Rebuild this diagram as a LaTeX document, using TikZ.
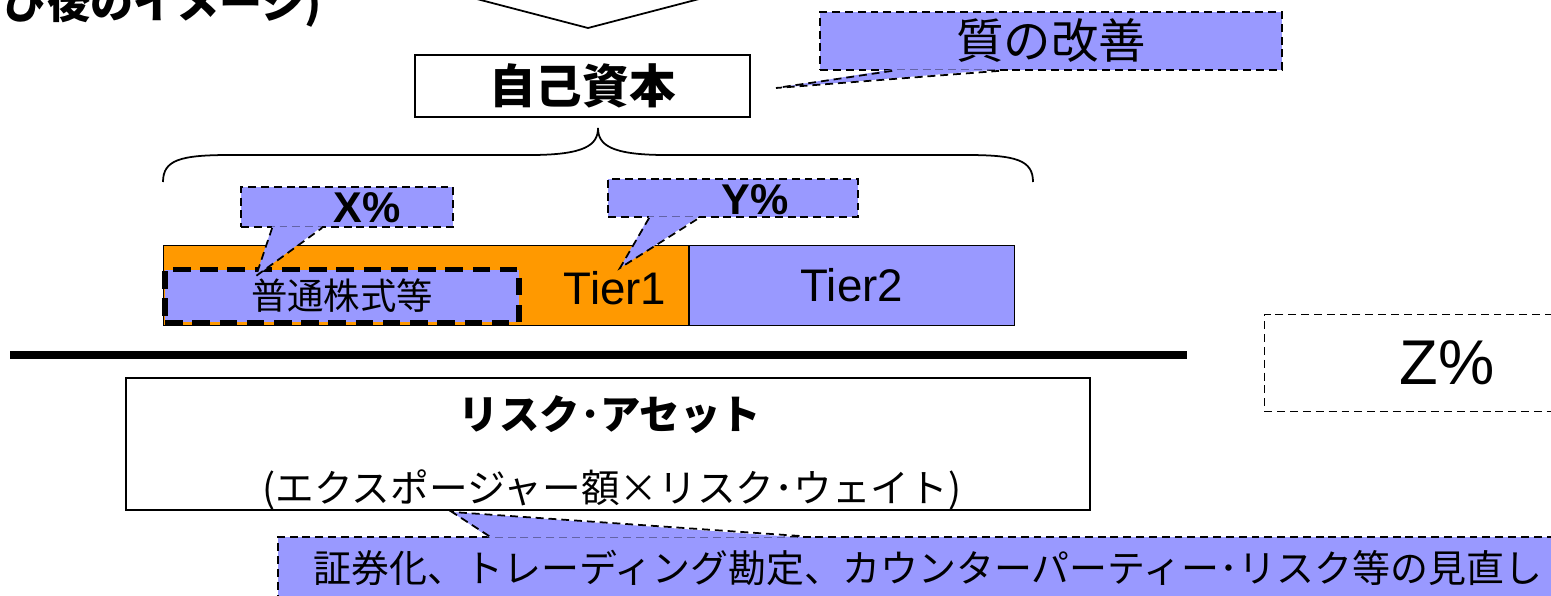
\documentclass[tikz,border=0pt]{standalone}
\usepackage{fontspec}
\setmainfont{Liberation Sans}
\newfontfamily\jp{Noto Sans CJK JP}
\usetikzlibrary{positioning,calc}
\definecolor{lav}{HTML}{9999FF}
\definecolor{orng}{HTML}{FF9900}
\tikzset{
  note/.style={fill=lav, draw, line width=1pt, dash pattern=on 4.5pt off 2.8pt, inner sep=0pt},
  noteline/.style={line width=1pt, dash pattern=on 4.5pt off 2.8pt},
  plainbox/.style={draw, line width=1pt, fill=white, inner sep=0pt},
  barpart/.style={draw, line width=0.6pt, inner sep=0pt, minimum height=1.6cm},
  pct/.style={inner sep=0pt, font=\bfseries\fontsize{24.5pt}{28pt}\selectfont},
}

\begin{document}
\begin{tikzpicture}[x=0.02cm, y=-0.02cm, >=latex]
  \clip (0,0) rectangle (1551,595);

  % title (cut at the top)
  \node[anchor=east, inner sep=0pt, font=\jp\bfseries\fontsize{24.5pt}{28pt}\selectfont] (ttl) at (322,4) {び後のイメージ)};
  \draw[line width=1pt] (427,-14) -- (588,28) -- (749,-14);

  % capital
  \node[plainbox, minimum width=6.7cm, minimum height=1.24cm, font=\jp\bfseries\fontsize{26.5pt}{30pt}\selectfont] (eq) at (582.5,86) {自己資本};

  \node[note, minimum width=9.24cm, minimum height=1.16cm, font=\jp\fontsize{27pt}{30pt}\selectfont] (qual) at (1051,41) {質の改善};
  \coordinate (qtip) at (776,88);
  \fill[lav] ($(qual.south west)+(73,-1.5)$) -- (qtip) -- ($(qual.south west)+(180,-1.5)$) -- cycle;
  \draw[noteline] ($(qual.south west)+(73,0)$) -- (qtip) -- ($(qual.south west)+(180,0)$);

  % brace
  \draw[line width=1pt] (163,182) .. controls (163,160) and (180,155) .. (230,155) -- (530,155)
     .. controls (585,155) and (598,145) .. (598,128)
     .. controls (598,145) and (611,155) .. (666,155) -- (966,155)
     .. controls (1016,155) and (1033,160) .. (1033,182);

  % tiers
  \node[barpart, fill=orng, minimum width=10.5cm, anchor=north west] (tier1) at (163,245) {};
  \node[barpart, fill=lav, minimum width=6.5cm, right=0pt of tier1, font=\fontsize{26pt}{30pt}\selectfont] (tier2) {Tier2};
  \node[inner sep=0pt, font=\fontsize{26pt}{30pt}\selectfont] (t1txt) at (615,288) {Tier1};
  \node[draw, fill=lav, line width=3.3pt, dash pattern=on 10pt off 5.5pt, minimum width=7.08cm, minimum height=1.06cm, inner sep=0pt, font=\jp\fontsize{20.7pt}{24pt}\selectfont] (cs) at (342,296) {普通株式等};

  % X%
  \node[note, minimum width=4.24cm, minimum height=0.8cm] (xbox) at (347,207) {};
  \node[pct] (xp) at (367,208) {X\%};
  \coordinate (xtip) at (256,276);
  \fill[lav] ($(xbox.south west)+(32,-1.5)$) -- (xtip) -- ($(xbox.south west)+(82,-1.5)$) -- cycle;
  \draw[noteline] ($(xbox.south west)+(32,0)$) -- (xtip) -- ($(xbox.south west)+(82,0)$);

  % Y%
  \node[note, minimum width=5cm, minimum height=0.76cm] (ybox) at (733,198) {};
  \node[pct] (yp) at (755,200) {Y\%};
  \coordinate (ytip) at (620,268);
  \fill[lav] ($(ybox.south west)+(42,-1.5)$) -- (ytip) -- ($(ybox.south west)+(92,-1.5)$) -- cycle;
  \draw[noteline] ($(ybox.south west)+(42,0)$) -- (ytip) -- ($(ybox.south west)+(92,0)$);

  % ratio line
  \draw[line width=4pt] (10,355) -- (1187,355);
  \node[draw, noteline, minimum width=7.3cm, minimum height=1.94cm, inner sep=0pt, font=\fontsize{36pt}{40pt}\selectfont] (zp) at (1447,363) {Z\%};

  % risk assets
  \node[plainbox, minimum width=19.28cm, minimum height=2.64cm] (ra) at (608,444) {};
  \node[inner sep=0pt, font=\jp\bfseries\fontsize{23pt}{26pt}\selectfont] (raname) at (610,415) {リスク･アセット};
  \node[inner sep=0pt, font=\jp\fontsize{22pt}{26pt}\selectfont] (raform) at (612,490) {(エクスポージャー額×リスク･ウェイト)};

  \node[note, minimum width=26cm, minimum height=1.24cm, font=\jp\fontsize{21.6pt}{24pt}\selectfont] (rev) at (928,568) {証券化、トレーディング勘定、カウンターパーティー･リスク等の見直し};
  \coordinate (rtip) at (452,512);
  \fill[lav] ($(rev.north west)+(212,1.5)$) -- (rtip) -- ($(rev.north west)+(525,1.5)$) -- cycle;
  \draw[noteline] ($(rev.north west)+(212,0)$) -- (rtip) -- ($(rev.north west)+(525,0)$);
\end{tikzpicture}
\end{document}
